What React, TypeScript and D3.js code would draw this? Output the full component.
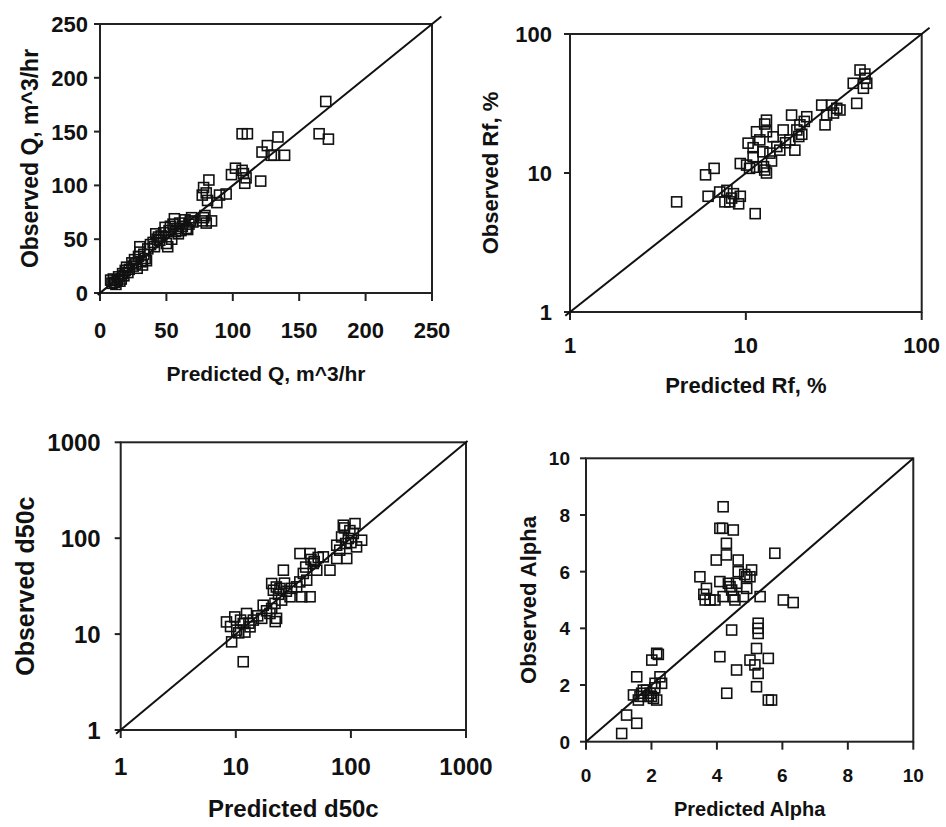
import React from "react";
import * as d3 from "d3";

// ---------- DATA (predicted, observed) ----------
const qData: [number, number][] = [
  [8, 12], [9, 9], [10, 13], [11, 10], [12, 8], [13, 12], [14, 15], [15, 11], [16, 13], [17, 18],
  [18, 16], [19, 21], [20, 24], [21, 19], [22, 22], [24, 28], [25, 25], [26, 31], [27, 27], [28, 23],
  [29, 34], [30, 43], [30, 38], [31, 29], [32, 26], [33, 36], [34, 32], [35, 30], [36, 41], [38, 45],
  [40, 47], [41, 43], [42, 55], [43, 50], [44, 52], [45, 49], [46, 53], [48, 56], [49, 61], [50, 46],
  [51, 43], [52, 58], [53, 62], [54, 50], [55, 64], [56, 69], [57, 57], [58, 60], [59, 55], [60, 65],
  [61, 58], [62, 62], [64, 68], [65, 60], [66, 59], [67, 64], [68, 67], [69, 70], [70, 66],
  [77, 67], [78, 70], [79, 72], [80, 65], [84, 67], [77, 91], [78, 98], [80, 93], [82, 105], [81, 86],
  [88, 84], [90, 91], [95, 92], [99, 110], [102, 116], [107, 114], [109, 102], [110, 107], [108, 111],
  [107, 148], [111, 148], [121, 104], [122, 131], [126, 137], [129, 128], [131, 128], [134, 145],
  [139, 128], [165, 148], [170, 178], [172, 143],
];

const rfData: [number, number][] = [
  [4.04, 6.2], [5.9, 9.7], [6.6, 10.8], [6.1, 6.8], [7.1, 7.3], [7.8, 7.5], [8.5, 7.1], [9.3, 6.8],
  [8.1, 6.2], [9.1, 6.0], [7.6, 6.2], [8.3, 6.6], [11.3, 5.1],
  [9.3, 11.7], [10.1, 11.4], [10.5, 10.8], [11.0, 13.1], [11.5, 11.0], [12.6, 11.1], [13.1, 10.0],
  [12.8, 10.5], [10.3, 16.4], [11.5, 19.8], [11.0, 15.2], [12.0, 17.3], [12.5, 14.2], [13.1, 24.0],
  [13.1, 19.8], [12.8, 22.5], [14.3, 18.2], [15.0, 15.5], [15.6, 14.6], [13.7, 13.9], [14.0, 12.2],
  [16.3, 20.4], [16.8, 16.5], [17.8, 17.3], [18.2, 26.1], [19.5, 20.4], [19.0, 14.6], [20.3, 22.2],
  [20.8, 19.0], [22.2, 25.4], [21.5, 23.5], [20.0, 18.3],
  [27.0, 30.8], [30.7, 30.8], [32.9, 29.2], [28.8, 26.1], [28.2, 22.2], [34.3, 28.4], [31.5, 27.0],
  [42.7, 31.7], [44.6, 55.1], [40.8, 44.2], [47.6, 48.0], [48.7, 44.2], [46.6, 40.7], [47.5, 51.5],
];

const d50Data: [number, number][] = [
  [8.3, 13.4], [9.0, 12.0], [9.2, 8.3], [9.8, 15.1], [10.2, 11.0], [10.6, 10.3], [11.0, 14.0],
  [11.6, 12.9], [11.6, 5.15], [12.4, 16.4], [12.0, 10.5], [13.3, 11.9], [14.2, 14.0], [13.0, 13.0],
  [15.5, 15.5], [16.8, 14.6], [17.3, 20.0], [18.5, 17.5], [19.8, 16.4], [20.5, 18.5], [22.6, 14.6],
  [21.9, 20.9], [22.0, 13.5],
  [20.5, 33.7], [21.2, 28.7], [22.5, 31.0], [24.2, 29.9], [23.5, 26.0], [25.0, 22.6], [25.9, 46.4],
  [26.5, 34.0], [27.5, 28.0], [29.6, 24.5], [30.5, 30.0], [33.8, 31.1], [37.4, 24.5], [36.0, 35.0],
  [44.2, 24.5], [41.3, 36.5], [38.6, 42.9], [40.5, 50.0],
  [36.1, 69.2], [44.2, 69.2], [47.1, 54.5], [45.0, 60.0], [50.5, 46.4], [48.0, 57.0], [52.0, 63.0],
  [57.6, 63.9], [65.8, 46.4], [75.3, 84.5], [75.3, 61.4], [80.0, 75.0], [92.0, 61.4], [85.9, 136.6],
  [108.6, 142.0], [105.0, 112.0], [124.0, 95.3], [112.0, 81.2], [95.0, 99.3], [83.0, 103.0],
  [90.0, 88.0], [98.0, 120.0], [100.0, 90.0], [88, 128],
];

const alphaData: [number, number][] = [
  [1.09, 0.29], [1.24, 0.94], [1.55, 0.65], [1.45, 1.65], [1.6, 1.47], [1.7, 1.71], [1.55, 2.29],
  [1.96, 1.71], [2.06, 1.53], [1.85, 1.82], [2.16, 1.47], [2.31, 2.06], [2.11, 2.06], [2.26, 2.29],
  [2.01, 2.88], [2.16, 3.12], [2.21, 3.08], [1.75, 1.82], [1.65, 1.6], [2.0, 1.6], [2.1, 1.9], [1.9, 1.6],
  [4.19, 8.29], [4.09, 7.53], [4.17, 7.53], [4.5, 7.47], [4.29, 7.0], [4.29, 6.59], [3.98, 6.41],
  [4.65, 6.41], [5.77, 6.65], [3.48, 5.82], [3.68, 5.41], [3.64, 5.0], [3.79, 5.0], [3.94, 5.0],
  [4.09, 5.65], [4.35, 5.59], [4.4, 5.47], [4.19, 5.12], [4.5, 5.12], [4.6, 5.59], [4.65, 6.0],
  [4.81, 5.12], [4.91, 5.82], [5.01, 5.82], [5.06, 6.06], [4.91, 5.41], [5.32, 5.12], [6.03, 5.0],
  [6.33, 4.91], [4.45, 3.94], [5.26, 4.18], [5.26, 4.0], [5.26, 3.82], [4.09, 3.0], [4.6, 2.53],
  [4.3, 1.71], [5.21, 3.29], [5.01, 2.88], [5.16, 2.71], [5.57, 2.94], [5.26, 2.41], [5.21, 1.94],
  [5.57, 1.47], [5.67, 1.47], [4.45, 5.35], [4.55, 5.0], [4.85, 5.9], [3.6, 5.2],
];

const qTicks = [0, 50, 100, 150, 200, 250];
const rfTicks = [1, 10, 100];
const d50Ticks = [1, 10, 100, 1000];
const alphaTicks = [0, 2, 4, 6, 8, 10];

const FONT = "'Liberation Sans', Arial, Helvetica, sans-serif";

type PanelCfg = {
  data: [number, number][];
  log: boolean;
  domain: [number, number];
  ticks: number[];
  left: number; right: number; top: number; bottom: number;
  tickFont: number;
  yLabelGap: number;
  xLabelBaseline: number;
  xTitle: string; yTitle: string;
  xTitleBaseline: number; xTitleSize: number;
  yTitleX: number; yTitleSize: number;
  ext0: number; ext1: number;
};

const panels: PanelCfg[] = [
  {
    data: qData, log: false, domain: [0, 250], ticks: qTicks,
    left: 100, right: 432, top: 24, bottom: 293,
    tickFont: 22, yLabelGap: 12, xLabelBaseline: 338,
    xTitle: "Predicted Q, m^3/hr", yTitle: "Observed Q, m^3/hr",
    xTitleBaseline: 381, xTitleSize: 21, yTitleX: 30, yTitleSize: 23,
    ext0: 3, ext1: 12,
  },
  {
    data: rfData, log: true, domain: [1, 100], ticks: rfTicks,
    left: 570, right: 921.7, top: 34, bottom: 312,
    tickFont: 22, yLabelGap: 18, xLabelBaseline: 353,
    xTitle: "Predicted Rf, %", yTitle: "Observed Rf, %",
    xTitleBaseline: 393, xTitleSize: 22, yTitleX: 490, yTitleSize: 22,
    ext0: 6, ext1: 10,
  },
  {
    data: d50Data, log: true, domain: [1, 1000], ticks: d50Ticks,
    left: 120.7, right: 466, top: 442.3, bottom: 730,
    tickFont: 24, yLabelGap: 20, xLabelBaseline: 775,
    xTitle: "Predicted d50c", yTitle: "Observed d50c",
    xTitleBaseline: 817, xTitleSize: 24, yTitleX: 25, yTitleSize: 25,
    ext0: 6, ext1: 2,
  },
  {
    data: alphaData, log: false, domain: [0, 10], ticks: alphaTicks,
    left: 586, right: 913.3, top: 458.3, bottom: 741.7,
    tickFont: 19, yLabelGap: 16, xLabelBaseline: 782,
    xTitle: "Predicted Alpha", yTitle: "Observed Alpha",
    xTitleBaseline: 816, xTitleSize: 20, yTitleX: 528, yTitleSize: 22,
    ext0: 0, ext1: 0,
  },
];

function Panel({ c }: { c: PanelCfg }) {
  const x = (c.log ? d3.scaleLog() : d3.scaleLinear()).domain(c.domain).range([c.left, c.right]);
  const y = (c.log ? d3.scaleLog() : d3.scaleLinear()).domain(c.domain).range([c.bottom, c.top]);
  const x0 = x(c.domain[0]), y0 = y(c.domain[0]);
  const x1 = x(c.domain[1]), y1 = y(c.domain[1]);
  const len = Math.hypot(x1 - x0, y1 - y0);
  const ux = (x1 - x0) / len, uy = (y1 - y0) / len;
  const line = d3.line()([
    [x0 - ux * c.ext0, y0 - uy * c.ext0],
    [x1 + ux * c.ext1, y1 + uy * c.ext1],
  ]) as string;
  const midX = (c.left + c.right) / 2;
  const midY = (c.top + c.bottom) / 2;
  const S = 10;
  return (
    <g fontFamily={FONT} fill="#111">
      <rect x={c.left} y={c.top} width={c.right - c.left} height={c.bottom - c.top}
        fill="none" stroke="#222" strokeWidth={2} />
      {c.ticks.map((t) => (
        <g key={"x" + t}>
          <line x1={x(t)} x2={x(t)} y1={c.bottom} y2={c.bottom + 8} stroke="#222" strokeWidth={2} />
          <text x={x(t)} y={c.xLabelBaseline} textAnchor="middle" fontSize={c.tickFont} fontWeight="bold">{t}</text>
        </g>
      ))}
      {c.ticks.map((t) => (
        <g key={"y" + t}>
          <line x1={c.left - 6} x2={c.left} y1={y(t)} y2={y(t)} stroke="#222" strokeWidth={2} />
          <text x={c.left - c.yLabelGap} y={y(t) + c.tickFont * 0.36} textAnchor="end"
            fontSize={c.tickFont} fontWeight="bold">{t}</text>
        </g>
      ))}
      <path d={line} stroke="#111" strokeWidth={2} fill="none" />
      {c.data.map(([px, py], i) => (
        <rect key={i} x={x(px) - S / 2} y={y(py) - S / 2} width={S} height={S}
          fill="none" stroke="#111" strokeWidth={1.6} />
      ))}
      <text x={midX} y={c.xTitleBaseline} textAnchor="middle" fontSize={c.xTitleSize} fontWeight="bold">{c.xTitle}</text>
      <text transform={`translate(${c.yTitleX},${midY}) rotate(-90)`} textAnchor="middle"
        dominantBaseline="central" fontSize={c.yTitleSize} fontWeight="bold">{c.yTitle}</text>
    </g>
  );
}

export default function App() {
  return (
    <svg width={946} height={827} style={{ position: "absolute", left: 0, top: 0, background: "#fff" }}>
      <rect width={946} height={827} fill="#fff" />
      {panels.map((c, i) => <Panel key={i} c={c} />)}
    </svg>
  );
}
